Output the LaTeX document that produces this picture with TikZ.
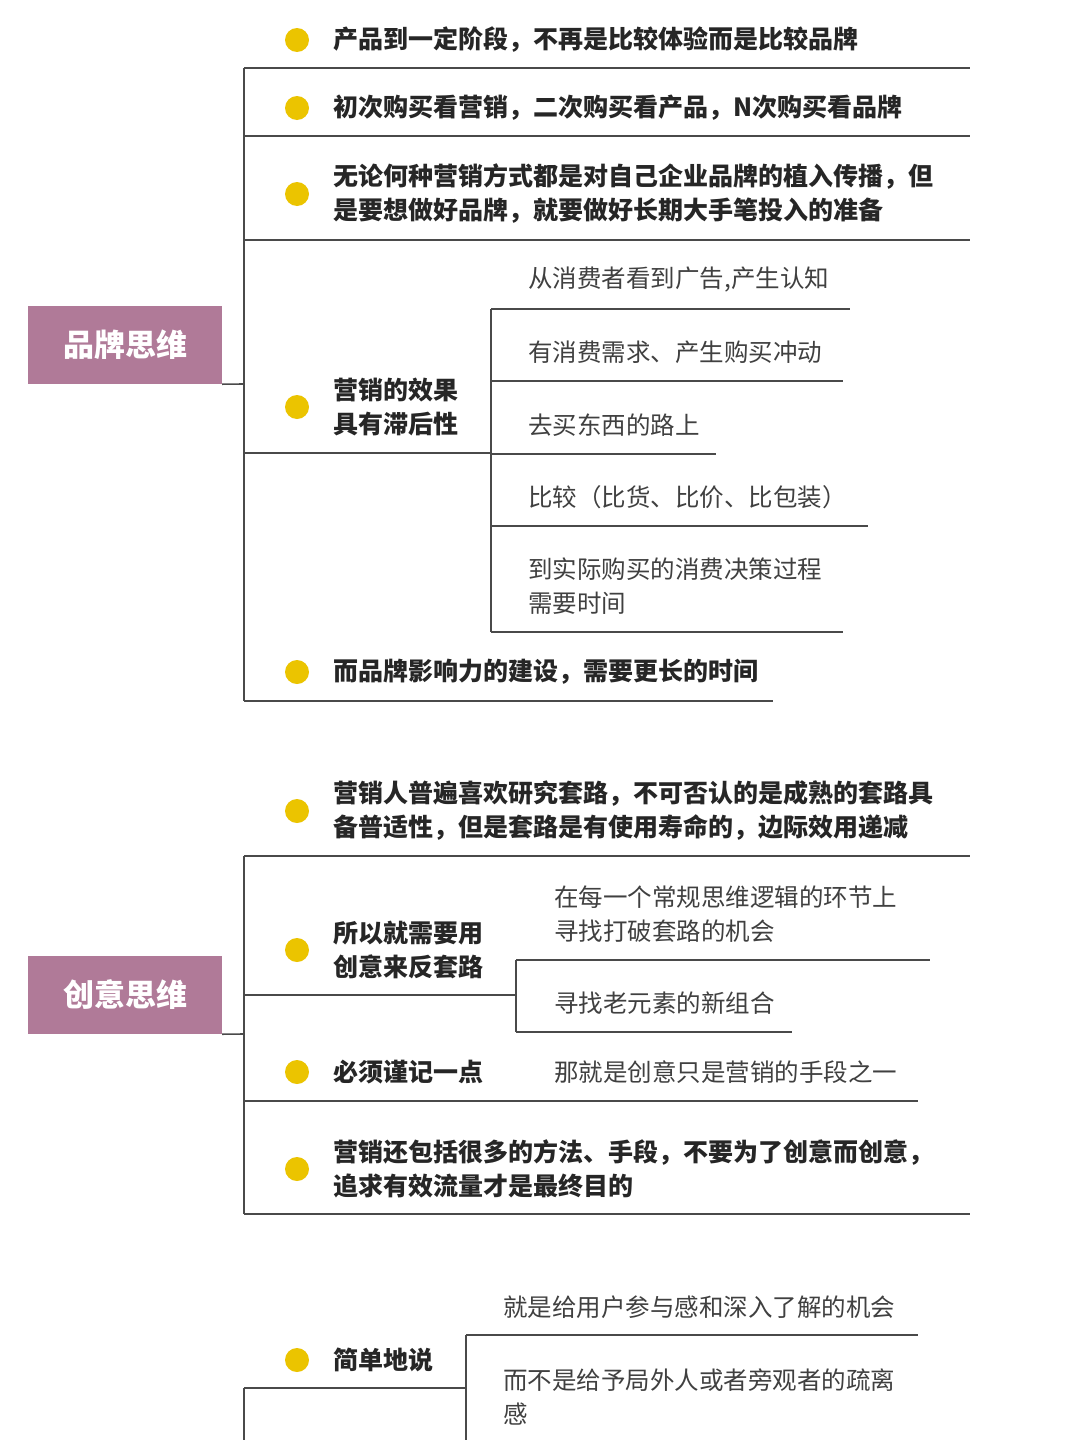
\documentclass[tikz,border=0pt]{standalone}
\usepackage{fontspec}
\setmainfont{Noto Sans CJK SC}
\definecolor{mauve}{HTML}{B07A98}
\definecolor{ln}{HTML}{4A4A4A}
\definecolor{dot}{HTML}{EBC400}
\begin{document}
\begin{tikzpicture}[x=1pt,y=-1pt,
  main/.style={anchor=west,inner sep=0pt,font=\fontsize{25}{34}\selectfont\bfseries,align=left,text=black!85},
  sub/.style={anchor=west,inner sep=0pt,font=\fontsize{24.5}{34}\selectfont,align=left,text=black!75},
  topic/.style={fill=mauve,minimum width=194pt,minimum height=78pt,inner sep=0pt,text=white,font=\fontsize{31}{32}\selectfont\bfseries},
  bul/.style={circle,fill=dot,minimum size=24pt,inner sep=0pt},
  lk/.style={ln,line width=1.6pt}]
\useasboundingbox (0,0) rectangle (1080,1440);
\fill[white] (0,0) rectangle (1080,1440);
% ---- section 1
\node[topic] (t1) at (125,345) {品牌思维};
\coordinate (v1t) at (244,68); \coordinate (v1b) at (244,701);
\draw[lk] (v1t) -- (v1b);
\draw[lk] (t1.south east) -- (244,384);
\node[bul] (b11) at (297,40) {}; \node[main] (m11) at (333,40) {产品到一定阶段，不再是比较体验而是比较品牌};
\draw[lk] (244,68) -- (970,68);
\node[bul] (b12) at (297,108) {}; \node[main] (m12) at (333,108) {初次购买看营销，二次购买看产品，N次购买看品牌};
\draw[lk] (244,136) -- (970,136);
\node[bul] (b13) at (297,194) {}; \node[main] (m13) at (333,194) {无论何种营销方式都是对自己企业品牌的植入传播，但\\是要想做好品牌，就要做好长期大手笔投入的准备};
\draw[lk] (244,240) -- (970,240);
\node[bul] (b14) at (297,407) {}; \node[main] (m14) at (333,407) {营销的效果\\具有滞后性};
\draw[lk] (244,453) -- (491,453);
\draw[lk] (491,309) -- (491,632);
\node[sub] (s1) at (528,280) {从消费者看到广告,产生认知}; \draw[lk] (491,309) -- (850,309);
\node[sub] (s2) at (528,352) {有消费需求、产生购买冲动}; \draw[lk] (491,381) -- (843,381);
\node[sub] (s3) at (528,425) {去买东西的路上}; \draw[lk] (491,454) -- (716,454);
\node[sub] (s4) at (528,497) {比较（比货、比价、比包装）}; \draw[lk] (491,526) -- (868,526);
\node[sub] (s5) at (528,586) {到实际购买的消费决策过程\\需要时间}; \draw[lk] (491,632) -- (843,632);
\node[bul] (b15) at (297,672) {}; \node[main] (m15) at (333,672) {而品牌影响力的建设，需要更长的时间};
\draw[lk] (244,701) -- (773,701);
% ---- section 2
\node[topic] (t2) at (125,995) {创意思维};
\draw[lk] (244,856) -- (244,1214);
\draw[lk] (t2.south east) -- (244,1034);
\node[bul] (b21) at (297,811) {}; \node[main] (m21) at (333,811) {营销人普遍喜欢研究套路，不可否认的是成熟的套路具\\备普适性，但是套路是有使用寿命的，边际效用递减};
\draw[lk] (244,856) -- (970,856);
\node[bul] (b22) at (297,950) {}; \node[main] (m22) at (333,950) {所以就需要用\\创意来反套路};
\draw[lk] (244,995) -- (516,995);
\draw[lk] (516,960) -- (516,1032);
\node[sub] (s21) at (554,914) {在每一个常规思维逻辑的环节上\\寻找打破套路的机会}; \draw[lk] (516,960) -- (930,960);
\node[sub] (s22) at (554,1003) {寻找老元素的新组合}; \draw[lk] (516,1032) -- (792,1032);
\node[bul] (b23) at (297,1072) {}; \node[main] (m23) at (333,1072) {必须谨记一点};
\node[sub] (s23) at (554,1072) {那就是创意只是营销的手段之一};
\draw[lk] (244,1101) -- (918,1101);
\node[bul] (b24) at (297,1169) {}; \node[main] (m24) at (333,1169) {营销还包括很多的方法、手段，不要为了创意而创意，\\追求有效流量才是最终目的};
\draw[lk] (244,1214) -- (970,1214);
% ---- section 3
\draw[lk] (244,1388) -- (244,1440);
\node[bul] (b31) at (297,1360) {}; \node[main] (m31) at (333,1360) {简单地说};
\draw[lk] (244,1388) -- (466,1388);
\draw[lk] (466,1335) -- (466,1440);
\node[sub] (s31) at (503,1307) {就是给用户参与感和深入了解的机会}; \draw[lk] (466,1335) -- (918,1335);
\node[sub] (s32) at (503,1397) {而不是给予局外人或者旁观者的疏离\\感};
\end{tikzpicture}
\end{document}
